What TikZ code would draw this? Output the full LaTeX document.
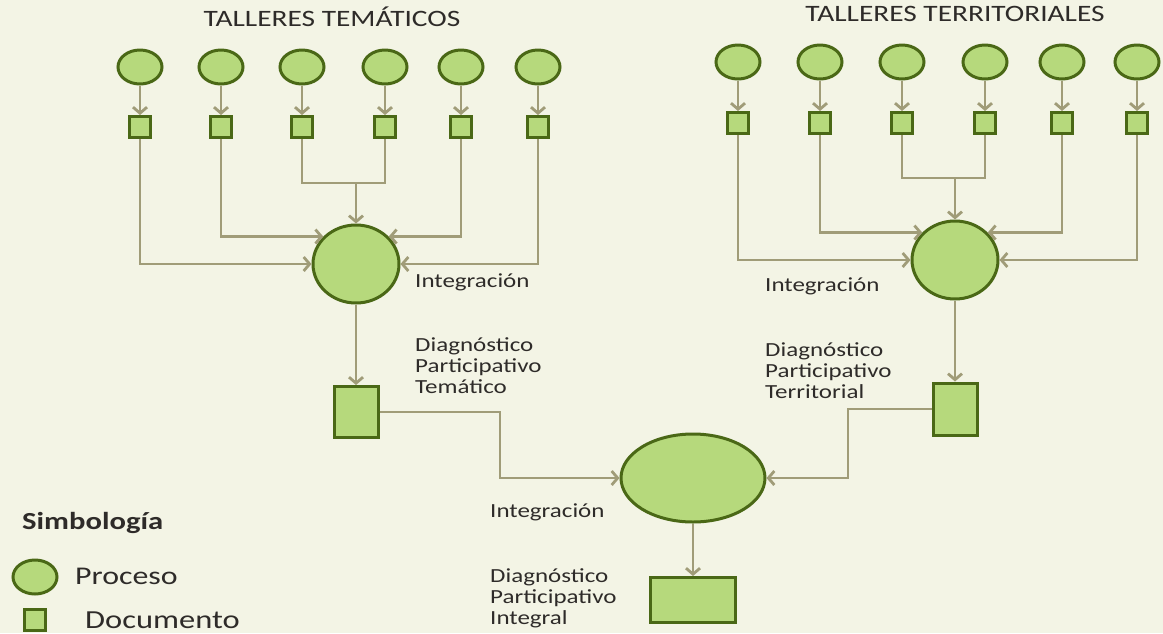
\documentclass[tikz,border=0pt]{standalone}
\usepackage{fontspec}
\setmainfont{Carlito}[FakeStretch=1.25]
\usepackage{tikz}
\usetikzlibrary{shapes.geometric, arrows.meta}

\definecolor{fondo}{HTML}{F3F4E5}
\definecolor{verde}{HTML}{B6D97C}
\definecolor{borde}{HTML}{4A6816}
\definecolor{linea}{HTML}{A09C78}
\definecolor{texto}{HTML}{2E2B29}

\tikzset{
    proceso/.style={ellipse, draw=borde, fill=verde, line width=3pt, minimum width=44pt, minimum height=34pt, inner sep=0pt},
    documento/.style={rectangle, draw=borde, fill=verde, line width=3pt, minimum size=21pt, inner sep=0pt},
    conector/.style={draw=linea, line width=2.8pt},
    flujo/.style={conector, -{Straight Barb[length=6pt,width=14pt]}},
    etiqueta/.style={text=texto, font=\fontsize{20}{21}\selectfont, align=left, anchor=west, inner sep=0pt},
    titulo/.style={text=texto, font=\fontsize{23.5}{24}\selectfont, inner sep=0pt}
}

\begin{document}
\begin{tikzpicture}[x=1pt, y=-1pt]
        \fill[fondo] (0,0) rectangle (1163,633);
        \useasboundingbox (0,0) rectangle (1163,633);

        % Titles
        \node[titulo] (ttem) at (332,17) {TALLERES TEMÁTICOS};
        \node[titulo] (tter) at (955,14) {TALLERES TERRITORIALES};

        % Thematic workshops
        \foreach \i/\x in {1/140,2/221,3/302,4/385,5/461,6/538} {
            \node[proceso] (tc\i) at (\x,67) {};
            \node[documento] (td\i) at (\x,127) {};
            \draw[flujo] (tc\i) -- (td\i);
        }
        \node[proceso, minimum width=86pt, minimum height=78pt] (ti) at (356,264) {};
        \coordinate (tj) at (356,183);
        \draw[conector] (td3) |- (tj) -| (td4);
        \draw[flujo] (tj) -- (ti);
        \draw[flujo] (td2) |- (ti.140);
        \draw[flujo] (td5) |- (ti.40);
        \draw[flujo] (td1) |- (ti);
        \draw[flujo] (td6) |- (ti);
        \node[etiqueta] (eti) at (415,282) {Integración};

        % Territorial workshops
        \foreach \i/\x in {1/738,2/820,3/902,4/985,5/1062,6/1137} {
            \node[proceso] (rc\i) at (\x,62) {};
            \node[documento] (rd\i) at (\x,123) {};
            \draw[flujo] (rc\i) -- (rd\i);
        }
        \node[proceso, minimum width=86pt, minimum height=78pt] (ri) at (955,260) {};
        \coordinate (rj) at (955,178);
        \draw[conector] (rd3) |- (rj) -| (rd4);
        \draw[flujo] (rj) -- (ri);
        \draw[flujo] (rd2) |- (ri.140);
        \draw[flujo] (rd5) |- (ri.40);
        \draw[flujo] (rd1) |- (ri);
        \draw[flujo] (rd6) |- (ri);
        \node[etiqueta] (eri) at (765,286) {Integración};

        % Diagnostic documents
        \node[documento, minimum width=44pt, minimum height=51pt] (tdoc) at (356,412) {};
        \draw[flujo] (ti) -- (tdoc);
        \node[etiqueta] (etdoc) at (415,366) {Diagnóstico\\Participativo\\Temático};

        \node[documento, minimum width=44pt, minimum height=52pt] (rdoc) at (955,409) {};
        \draw[flujo] (ri) -- (rdoc);
        \node[etiqueta] (erdoc) at (765,371) {Diagnóstico\\Participativo\\Territorial};

        % Final integration
        \node[proceso, minimum width=144pt, minimum height=88pt] (bi) at (693,478) {};
        \coordinate (tb) at (500,412);
        \coordinate (rb) at (848,409);
        \draw[flujo] (tdoc.east) -- (tb) |- (bi);
        \draw[flujo] (rdoc.west) -- (rb) |- (bi);
        \node[etiqueta] (ebi) at (490,512) {Integración};

        \node[documento, minimum width=85pt, minimum height=45pt] (bdoc) at (693,600) {};
        \draw[flujo] (bi) -- (bdoc);
        \node[etiqueta] (ebdoc) at (490,598) {Diagnóstico\\Participativo\\Integral};

        % Legend
        \node[etiqueta, font=\fontsize{24.5}{25}\selectfont\bfseries] (lsim) at (22,523) {Simbología};
        \node[proceso] (lp) at (35,577) {};
        \node[etiqueta, font=\fontsize{25.5}{26}\selectfont] (lpt) at (75,576) {Proceso};
        \node[documento] (ld) at (35,620) {};
        \node[etiqueta, font=\fontsize{26}{27}\selectfont] (ldt) at (85,620) {Documento};
    \end{tikzpicture}
\end{document}
